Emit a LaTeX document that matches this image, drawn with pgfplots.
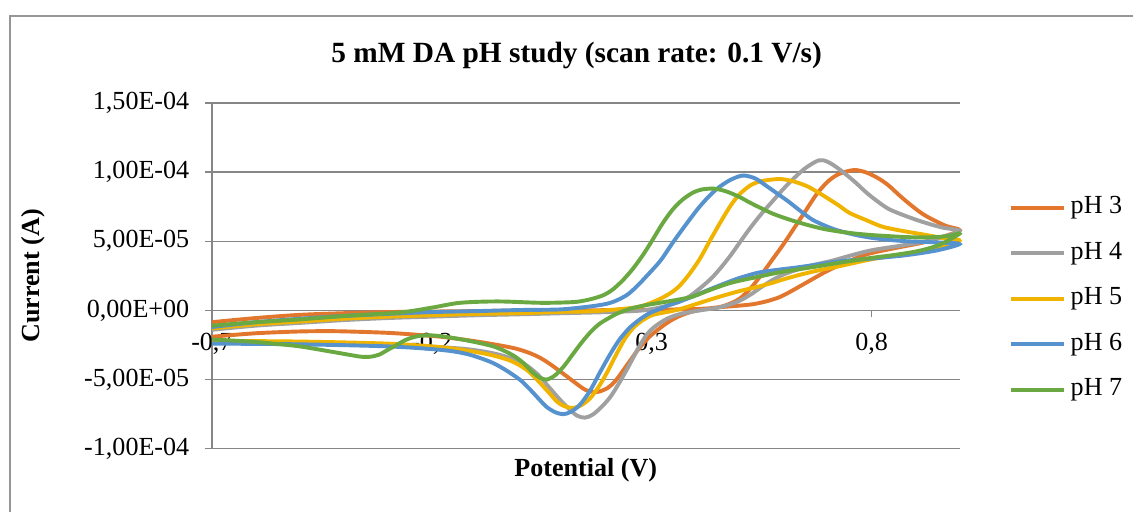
\documentclass[border=0pt]{standalone}
\usepackage{pgfplots}
\pgfplotsset{compat=1.18}
\usepackage{fontspec}
\setmainfont{Liberation Serif}

\definecolor{cph3}{RGB}{226,118,45}
\definecolor{cph4}{RGB}{160,160,160}
\definecolor{cph5}{RGB}{240,180,0}
\definecolor{cph6}{RGB}{86,146,206}
\definecolor{cph7}{RGB}{106,168,66}
\definecolor{axgray}{RGB}{134,134,134}
\definecolor{framegray}{RGB}{150,150,150}

\begin{document}
\begin{tikzpicture}
% page frame, title and axis titles (1 unit = 1 px)
\begin{scope}[x=0.46pt,y=-0.46pt]
  \useasboundingbox (0,0) rectangle (1133,512);
  \draw[framegray, line width=0.6pt] (10,540) -- (10,16) -- (1160,16);
  \node[anchor=base, font=\bfseries\fontsize{13.5}{16}\selectfont] at (577,63)
    {5 mM DA pH study (scan rate: 0.1 V/s)};
  \node[rotate=90, font=\bfseries\fontsize{12}{14}\selectfont] at (33,276) {Current (A)};
  \node[anchor=base, font=\bfseries\fontsize{12}{14}\selectfont] at (586,477) {Potential (V)};
\end{scope}

\begin{axis}[
  at={(97.52pt,-47.38pt)}, anchor=north west,
  scale only axis, width=344.08pt, height=159.16pt,
  xmin=-0.7, xmax=1.0, ymin=-1e-4, ymax=1.5e-4,
  axis x line*=middle, axis y line*=left,
  axis line style={axgray, line width=0.6pt},
  hide obscured x ticks=false,
  xtick={-0.7,-0.2,0.3,0.8},
  xticklabels={{-0,7},{-0,2},{0,3},{0,8}},
  ytick={-1e-4,-5e-5,0,5e-5,1e-4,1.5e-4},
  yticklabels={{-1,00E-04},{-5,00E-05},{0,00E+00},{5,00E-05},{1,00E-04},{1,50E-04}},
  scaled y ticks=false, scaled x ticks=false,
  ymajorgrids,
  major grid style={axgray, line width=0.6pt},
  tick align=outside, major tick length=3.2pt,
  tick style={axgray, line width=0.6pt},
  ticklabel style={font=\fontsize{12}{14}\selectfont},
  xticklabel style={yshift=-3.7pt},
  yticklabel style={xshift=-3.7pt},
  clip=false,
  every axis plot/.append style={smooth, line width=1.8pt},
  legend style={at={(1.0575,0.4335)}, anchor=west, draw=none, fill=none,
    font=\fontsize{12}{14}\selectfont, row sep=6.4pt,
    nodes={inner sep=2pt, text height=8pt, text depth=2.5pt}},
  legend cell align=left,
  legend image code/.code={\draw[#1, line width=1.8pt] (0pt,0pt) -- (24.4pt,0pt);},
]

% pH 3: anodic sweep, then cathodic sweep
\addplot[cph3] coordinates {
 (-0.70,-0.85e-5) (-0.60,-0.55e-5) (-0.50,-0.32e-5) (-0.40,-0.2e-5) (-0.30,-0.12e-5)
 (-0.20,-0.08e-5) (-0.10,-0.05e-5) (0.00,-0.02e-5) (0.10,0.0) (0.20,0.02e-5)
 (0.30,0.05e-5) (0.40,0.1e-5) (0.45,0.22e-5) (0.475,0.45e-5) (0.50,0.85e-5)
 (0.525,1.6e-5) (0.55,2.6e-5) (0.575,3.7e-5) (0.60,4.8e-5) (0.625,6.0e-5)
 (0.65,7.2e-5) (0.675,8.4e-5) (0.70,9.3e-5) (0.725,9.85e-5) (0.76,10.15e-5)
 (0.79,9.95e-5) (0.818,9.5e-5) (0.84,9.0e-5) (0.864,8.3e-5) (0.89,7.6e-5)
 (0.915,7.0e-5) (0.94,6.55e-5) (0.97,6.1e-5) (1.00,5.8e-5)
 (0.96,5.3e-5) (0.916,4.9e-5) (0.86,4.55e-5) (0.80,4.15e-5) (0.77,3.85e-5)
 (0.745,3.5e-5) (0.715,3.1e-5) (0.69,2.7e-5) (0.665,2.25e-5) (0.64,1.8e-5)
 (0.615,1.35e-5) (0.59,0.95e-5) (0.56,0.65e-5) (0.53,0.45e-5) (0.50,0.35e-5)
 (0.45,0.22e-5) (0.42,0.1e-5) (0.39,-0.1e-5) (0.36,-0.45e-5) (0.34,-0.8e-5)
 (0.32,-1.25e-5) (0.295,-1.9e-5) (0.27,-2.8e-5) (0.245,-3.9e-5) (0.22,-5.0e-5)
 (0.20,-5.6e-5) (0.175,-5.9e-5) (0.15,-5.75e-5) (0.125,-5.2e-5) (0.10,-4.6e-5)
 (0.07,-3.9e-5) (0.045,-3.4e-5) (0.02,-3.05e-5) (-0.01,-2.75e-5) (-0.05,-2.5e-5)
 (-0.107,-2.2e-5) (-0.18,-1.9e-5) (-0.25,-1.72e-5) (-0.30,-1.62e-5) (-0.36,-1.55e-5)
 (-0.425,-1.5e-5) (-0.50,-1.52e-5) (-0.60,-1.65e-5) (-0.70,-1.9e-5)
};
\addlegendentry{pH 3}

% pH 4
\addplot[cph4] coordinates {
 (-0.70,-1.4e-5) (-0.60,-1.1e-5) (-0.50,-0.9e-5) (-0.40,-0.7e-5) (-0.30,-0.55e-5)
 (-0.20,-0.45e-5) (-0.10,-0.35e-5) (0.00,-0.28e-5) (0.10,-0.2e-5) (0.20,-0.12e-5)
 (0.28,0.0) (0.33,0.3e-5) (0.36,0.6e-5) (0.385,1.0e-5) (0.41,1.6e-5)
 (0.435,2.3e-5) (0.455,3.0e-5) (0.48,4.0e-5) (0.50,4.9e-5) (0.525,6.0e-5)
 (0.55,7.0e-5) (0.575,7.9e-5) (0.60,8.8e-5) (0.625,9.6e-5) (0.65,10.3e-5)
 (0.68,10.85e-5) (0.70,10.75e-5) (0.727,10.2e-5) (0.76,9.35e-5) (0.789,8.5e-5)
 (0.815,7.85e-5) (0.841,7.3e-5) (0.88,6.8e-5) (0.916,6.4e-5) (0.96,6.0e-5)
 (1.00,5.75e-5)
 (0.96,5.3e-5) (0.916,4.95e-5) (0.86,4.65e-5) (0.80,4.35e-5) (0.75,3.95e-5)
 (0.711,3.6e-5) (0.67,3.3e-5) (0.636,3.0e-5) (0.60,2.6e-5) (0.575,2.2e-5)
 (0.55,1.7e-5) (0.525,1.15e-5) (0.50,0.7e-5) (0.475,0.4e-5) (0.45,0.2e-5)
 (0.42,0.05e-5) (0.39,-0.1e-5) (0.36,-0.3e-5) (0.335,-0.6e-5) (0.31,-1.1e-5)
 (0.29,-1.7e-5) (0.27,-2.7e-5) (0.25,-3.9e-5) (0.227,-5.2e-5) (0.205,-6.3e-5)
 (0.182,-7.1e-5) (0.165,-7.55e-5) (0.148,-7.75e-5) (0.13,-7.6e-5) (0.11,-7.05e-5)
 (0.09,-6.4e-5) (0.068,-5.6e-5) (0.04,-4.6e-5) (0.007,-3.8e-5) (-0.03,-3.35e-5)
 (-0.068,-3.05e-5) (-0.12,-2.8e-5) (-0.182,-2.65e-5) (-0.30,-2.45e-5) (-0.50,-2.3e-5)
 (-0.70,-2.3e-5)
};
\addlegendentry{pH 4}

% pH 5
\addplot[cph5] coordinates {
 (-0.70,-1.3e-5) (-0.60,-1.0e-5) (-0.50,-0.8e-5) (-0.40,-0.6e-5) (-0.30,-0.45e-5)
 (-0.20,-0.35e-5) (-0.10,-0.25e-5) (0.00,-0.2e-5) (0.10,-0.1e-5) (0.17,-0.05e-5)
 (0.26,0.2e-5) (0.29,0.45e-5) (0.32,0.85e-5) (0.345,1.3e-5) (0.364,1.8e-5)
 (0.385,2.6e-5) (0.409,3.7e-5) (0.43,4.9e-5) (0.455,6.3e-5) (0.48,7.6e-5)
 (0.50,8.4e-5) (0.525,9.05e-5) (0.55,9.35e-5) (0.59,9.5e-5) (0.62,9.35e-5)
 (0.652,9.0e-5) (0.675,8.6e-5) (0.698,8.15e-5) (0.725,7.6e-5) (0.75,7.05e-5)
 (0.79,6.5e-5) (0.825,6.05e-5) (0.87,5.75e-5) (0.916,5.5e-5) (0.96,5.25e-5)
 (1.00,5.05e-5)
 (0.95,4.5e-5) (0.88,4.1e-5) (0.80,3.7e-5) (0.727,3.2e-5) (0.68,2.9e-5)
 (0.64,2.6e-5) (0.60,2.25e-5) (0.575,2.0e-5) (0.54,1.7e-5) (0.50,1.4e-5)
 (0.45,0.95e-5) (0.40,0.45e-5) (0.37,0.15e-5) (0.345,-0.05e-5) (0.32,-0.2e-5)
 (0.30,-0.35e-5) (0.28,-0.7e-5) (0.26,-1.2e-5) (0.24,-2.0e-5) (0.22,-3.15e-5)
 (0.20,-4.4e-5) (0.18,-5.5e-5) (0.16,-6.35e-5) (0.14,-6.85e-5) (0.12,-7.05e-5)
 (0.10,-6.9e-5) (0.085,-6.6e-5) (0.068,-6.0e-5) (0.045,-5.2e-5) (0.016,-4.3e-5)
 (-0.02,-3.65e-5) (-0.068,-3.2e-5) (-0.12,-2.9e-5) (-0.182,-2.65e-5) (-0.30,-2.4e-5)
 (-0.50,-2.25e-5) (-0.70,-2.2e-5)
};
\addlegendentry{pH 5}

% pH 6
\addplot[cph6] coordinates {
 (-0.70,-1.2e-5) (-0.60,-0.85e-5) (-0.50,-0.6e-5) (-0.40,-0.4e-5) (-0.30,-0.25e-5)
 (-0.20,-0.12e-5) (-0.10,-0.05e-5) (0.00,0.03e-5) (0.09,0.07e-5) (0.15,0.25e-5)
 (0.19,0.43e-5) (0.215,0.65e-5) (0.243,1.1e-5) (0.265,1.7e-5) (0.289,2.5e-5)
 (0.32,3.6e-5) (0.348,4.9e-5) (0.38,6.3e-5) (0.409,7.5e-5) (0.435,8.4e-5)
 (0.455,8.95e-5) (0.48,9.45e-5) (0.507,9.75e-5) (0.535,9.55e-5) (0.561,9.0e-5)
 (0.59,8.35e-5) (0.614,7.8e-5) (0.64,7.15e-5) (0.666,6.55e-5) (0.70,6.05e-5)
 (0.727,5.75e-5) (0.765,5.45e-5) (0.80,5.25e-5) (0.84,5.1e-5) (0.88,5.0e-5)
 (0.92,4.95e-5) (0.96,4.9e-5) (1.00,4.8e-5)
 (0.95,4.35e-5) (0.88,4.0e-5) (0.80,3.75e-5) (0.727,3.55e-5) (0.64,3.15e-5)
 (0.59,2.95e-5) (0.545,2.75e-5) (0.50,2.35e-5) (0.47,2.0e-5) (0.43,1.5e-5)
 (0.393,1.0e-5) (0.36,0.6e-5) (0.34,0.4e-5) (0.318,0.1e-5) (0.295,-0.2e-5)
 (0.273,-0.65e-5) (0.25,-1.25e-5) (0.227,-2.1e-5) (0.205,-3.2e-5) (0.182,-4.5e-5)
 (0.16,-5.8e-5) (0.136,-6.85e-5) (0.115,-7.35e-5) (0.098,-7.5e-5) (0.08,-7.35e-5)
 (0.06,-6.95e-5) (0.045,-6.45e-5) (0.02,-5.6e-5) (0.00,-5.0e-5) (-0.035,-4.25e-5)
 (-0.068,-3.7e-5) (-0.12,-3.15e-5) (-0.18,-2.85e-5) (-0.30,-2.6e-5) (-0.50,-2.45e-5)
 (-0.70,-2.4e-5)
};
\addlegendentry{pH 6}

% pH 7
\addplot[cph7] coordinates {
 (-0.70,-1.1e-5) (-0.60,-0.85e-5) (-0.50,-0.65e-5) (-0.40,-0.4e-5) (-0.273,-0.15e-5)
 (-0.20,0.2e-5) (-0.136,0.55e-5) (-0.05,0.65e-5) (0.05,0.55e-5) (0.12,0.6e-5)
 (0.145,0.7e-5) (0.166,0.85e-5) (0.19,1.1e-5) (0.211,1.5e-5) (0.235,2.2e-5)
 (0.257,3.0e-5) (0.28,4.0e-5) (0.302,5.1e-5) (0.325,6.3e-5) (0.348,7.3e-5)
 (0.37,8.0e-5) (0.393,8.5e-5) (0.415,8.75e-5) (0.443,8.8e-5) (0.47,8.6e-5)
 (0.50,8.2e-5) (0.52,7.85e-5) (0.545,7.45e-5) (0.575,7.0e-5) (0.61,6.6e-5)
 (0.652,6.2e-5) (0.69,5.9e-5) (0.727,5.7e-5) (0.765,5.55e-5) (0.80,5.45e-5)
 (0.84,5.37e-5) (0.88,5.3e-5) (0.92,5.28e-5) (0.955,5.32e-5) (0.98,5.42e-5)
 (1.00,5.55e-5)
 (0.955,4.75e-5) (0.907,4.3e-5) (0.85,4.0e-5) (0.80,3.8e-5) (0.727,3.45e-5)
 (0.68,3.2e-5) (0.64,3.0e-5) (0.59,2.75e-5) (0.545,2.45e-5) (0.50,2.15e-5)
 (0.47,1.9e-5) (0.43,1.45e-5) (0.393,1.0e-5) (0.355,0.75e-5) (0.318,0.55e-5)
 (0.29,0.4e-5) (0.26,0.2e-5) (0.24,0.0) (0.22,-0.25e-5) (0.20,-0.6e-5)
 (0.18,-1.0e-5) (0.16,-1.6e-5) (0.14,-2.35e-5) (0.12,-3.2e-5) (0.10,-4.05e-5)
 (0.08,-4.7e-5) (0.061,-5.0e-5) (0.045,-4.85e-5) (0.03,-4.5e-5) (0.01,-3.85e-5)
 (-0.01,-3.35e-5) (-0.03,-3.0e-5) (-0.06,-2.6e-5) (-0.107,-2.25e-5) (-0.15,-2.0e-5)
 (-0.182,-1.85e-5) (-0.205,-1.8e-5) (-0.23,-1.85e-5) (-0.257,-2.1e-5) (-0.28,-2.5e-5)
 (-0.30,-2.85e-5) (-0.32,-3.2e-5) (-0.34,-3.35e-5) (-0.36,-3.35e-5) (-0.38,-3.25e-5)
 (-0.425,-3.0e-5) (-0.50,-2.6e-5) (-0.56,-2.4e-5) (-0.614,-2.25e-5) (-0.70,-2.1e-5)
};
\addlegendentry{pH 7}

\end{axis}
\end{tikzpicture}
\end{document}
